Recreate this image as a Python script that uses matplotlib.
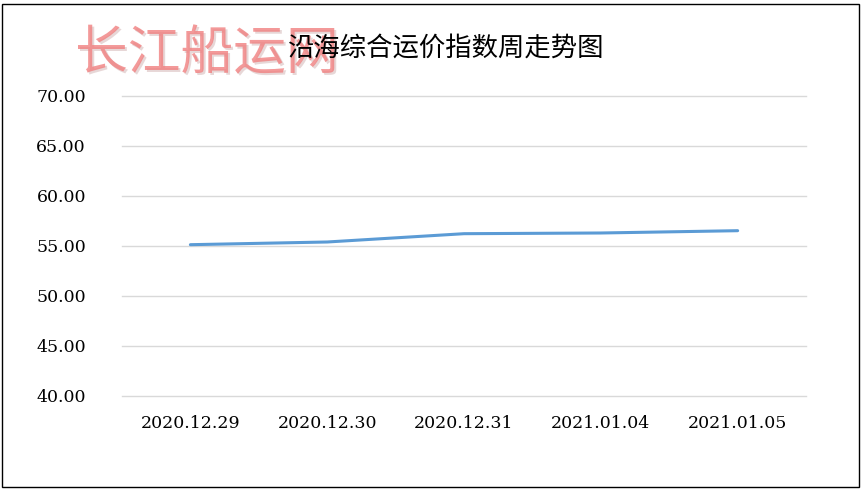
import matplotlib
matplotlib.use("Agg")
import matplotlib.pyplot as plt
from matplotlib.patches import Rectangle

dates = ["2020.12.29", "2020.12.30", "2020.12.31", "2021.01.04", "2021.01.05"]
index_values = [55.13, 55.40, 56.23, 56.30, 56.53]
y_ticks = [40, 45, 50, 55, 60, 65, 70]

plt.rcParams['font.family'] = ['Noto Sans CJK SC', 'DejaVu Sans']

fig = plt.figure(figsize=(8.67, 4.91), dpi=100)
ax = fig.add_axes([0.1407, 0.1935, 0.789, 0.611])

x = list(range(len(dates)))
ax.plot(x, index_values, color='#5b9bd5', lw=2.2, solid_capstyle='round', zorder=3)

ax.set_xlim(-0.5, len(dates) - 0.5)
ax.set_ylim(40, 70)
ax.set_yticks(y_ticks)
ax.set_yticklabels([f"{v:.2f}" for v in y_ticks], family='DejaVu Serif', fontsize=12.5)
ax.set_xticks(x)
ax.set_xticklabels(dates, family='DejaVu Serif', fontsize=12.5)
ax.tick_params(axis='both', length=0)
ax.tick_params(axis='y', pad=26)
ax.tick_params(axis='x', pad=14)
ax.grid(axis='y', color='#d9d9d9', lw=1)
for gl in ax.get_ygridlines():
    gl.set_clip_on(False)
ax.set_axisbelow(True)
for s in ax.spines.values():
    s.set_visible(False)

# title and watermark
fig.text(445 / 867, 1 - 48 / 491, "沿海综合运价指数周走势图", ha='center', va='center',
         fontsize=19, color='black')
fig.text(207 / 867 + 0.002, 1 - 54 / 491 - 0.004, "长江船运网", ha='center', va='center',
         fontsize=38, color='#d0b0b0', alpha=0.5, zorder=0)
fig.text(207 / 867, 1 - 54 / 491, "长江船运网", ha='center', va='center',
         fontsize=38, color='#f08080', alpha=0.8, zorder=1)

# outer border
fig.patches.append(Rectangle((2 / 867, 4 / 491), 857 / 867, 483 / 491,
                             transform=fig.transFigure, fill=False,
                             edgecolor='black', lw=1))

fig.savefig("out.png", dpi=100)
